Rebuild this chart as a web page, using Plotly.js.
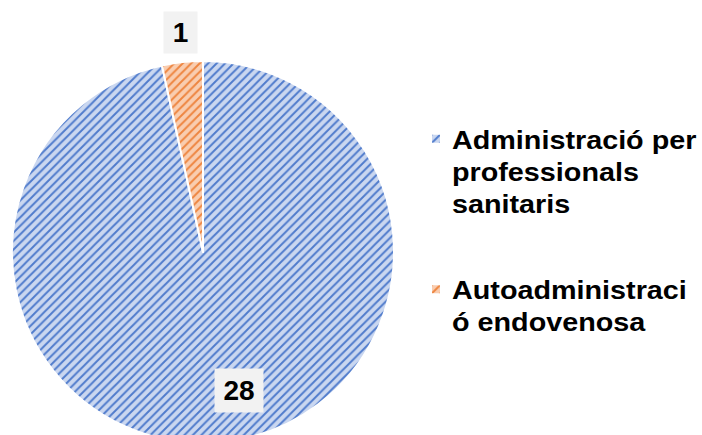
<!DOCTYPE html>
<html><head><meta charset="utf-8">
<script src="https://cdn.plot.ly/plotly-3.0.1.min.js"></script>
<style>html,body{margin:0;padding:0;overflow:hidden;background:#fff}#chart{width:702px;height:450px}</style>
</head><body><div id="chart"></div>
<script>
// Data
const categories = ['Administració per professionals sanitaris', 'Autoadministració endovenosa'];
const legendLabels = ['Administració per<br>professionals<br>sanitaris', 'Autoadministraci<br>ó endovenosa'];
const values = [28, 1];
// Styles
const bgColors = ['#cad7f0', '#f9cdb0'];
const fgColors = ['#4f7bcc', '#ee8540'];

const trace = {
  type: 'pie',
  labels: legendLabels,
  values: values,
  customdata: categories,
  sort: false,
  direction: 'clockwise',
  rotation: 0,
  textinfo: 'none',
  hoverinfo: 'none',
  domain: {x: [12/702, 394/702], y: [7/450, 389/450]},
  marker: {
    colors: bgColors,
    line: {color: '#ffffff', width: 2},
    pattern: {shape: '/', bgcolor: bgColors, fgcolor: fgColors, size: 6, solidity: 0.32, fillmode: 'replace'}
  }
};

const labelFont = {family: 'Liberation Sans, Arial, sans-serif', size: 28, color: '#000000', weight: 'bold'};

const layout = {
  width: 702, height: 450,
  margin: {l: 0, r: 0, t: 0, b: 0},
  paper_bgcolor: '#ffffff',
  showlegend: true,
  legend: {
    x: 412/702, xanchor: 'left',
    y: 1 - 116/450, yanchor: 'top',
    valign: 'top',
    font: {family: 'Liberation Sans, Arial, sans-serif', size: 25, color: '#000000', weight: 'bold'},
    bgcolor: 'rgba(0,0,0,0)'
  },
  annotations: [
    {text: '<b>' + values[1] + '</b>', xref: 'paper', yref: 'paper', x: 180.5/702, y: 1 - 32.5/450,
     xanchor: 'center', yanchor: 'middle',
     showarrow: false, bgcolor: '#f2f2f2', borderpad: 0, width: 33, height: 41, font: labelFont},
    {text: '<b>' + values[0] + '</b>', xref: 'paper', yref: 'paper', x: 239/702, y: 1 - 390.5/450,
     xanchor: 'center', yanchor: 'middle',
     showarrow: false, bgcolor: '#f2f2f2', borderpad: 0, width: 48, height: 43, font: labelFont}
  ]
};

Plotly.newPlot('chart', [trace], layout, {displayModeBar: false, staticPlot: true}).then(function (gd) {
  // let the legend draw outside its measured box
  gd.querySelectorAll('.legend [clip-path], .legend').forEach(function (e) { e.removeAttribute('clip-path'); });
  // Widen legend text slightly to match the reference's wide bold lettering
  const items = gd.querySelectorAll('.legend .traces');
  items.forEach(function (g) {
    const t = g.querySelector('.legendtext');
    if (t) {
      const x = parseFloat(t.getAttribute('x')) || 0;
      t.setAttribute('transform', 'translate(' + x + ',0) scale(1.15,1) translate(' + (-x) + ',0)');
    }
    const pts = g.querySelector('.legendpoints');
    if (pts) {
      pts.querySelectorAll('path').forEach(function (p) {
        p.setAttribute('d', 'M4,4H-4V-4H4Z');
        p.style.strokeWidth = '0px';
      });
      pts.setAttribute('transform', 'translate(4,0)');
    }
  });
  // Larger gap between the two legend entries, as in the reference
  if (items.length > 1) {
    const g2 = items[1];
    const tr = g2.getAttribute('transform') || '';
    const m = tr.match(/translate\(\s*([-\d.]+)[ ,]+([-\d.]+)\s*\)/);
    if (m) {
      g2.setAttribute('transform', 'translate(' + m[1] + ',' + (parseFloat(m[2]) + 50) + ')');
    }
  }
});
</script></body></html>
